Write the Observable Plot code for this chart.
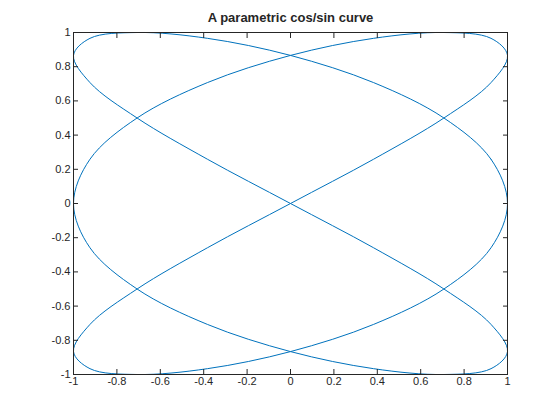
<!DOCTYPE html>
<html>
<head>
<meta charset="UTF-8">
<script src="https://cdn.jsdelivr.net/npm/d3@7"></script>
<script src="https://cdn.jsdelivr.net/npm/@observablehq/plot@0.6"></script>
<style>
  body { margin: 0; background: #fff; }
</style>
</head>
<body>
<div id="chart"></div>
<script>
// points, in drawing order (closed loop)
const xs = [1, 0.924, 0.707, 0.383, 0, -0.383, -0.707, -0.924, -1, -0.924, -0.707, -0.383, 0, 0.383, 0.707, 0.924,
            1, 0.924, 0.707, 0.383, 0, -0.383, -0.707, -0.924, -1, -0.924, -0.707, -0.383, 0, 0.383, 0.707, 0.924,
            1, 0.924, 0.707, 0.383, 0, -0.383, -0.707, -0.924, -1, -0.924, -0.707, -0.383, 0, 0.383, 0.707, 0.924];
const ys = [0, 0.259, 0.5, 0.707, 0.866, 0.966, 1, 0.966, 0.866, 0.707, 0.5, 0.259,
            0, -0.259, -0.5, -0.707, -0.866, -0.966, -1, -0.966, -0.866, -0.707, -0.5, -0.259,
            0, 0.259, 0.5, 0.707, 0.866, 0.966, 1, 0.966, 0.866, 0.707, 0.5, 0.259,
            0, -0.259, -0.5, -0.707, -0.866, -0.966, -1, -0.966, -0.866, -0.707, -0.5, -0.259];
const tickVals = [-1, -0.8, -0.6, -0.4, -0.2, 0, 0.2, 0.4, 0.6, 0.8, 1];

const pts = xs.map((x, i) => ({x, y: ys[i]}));
const fmt = d => String(+d.toFixed(1));
const blank = () => "";

const plot = Plot.plot({
  width: 560, height: 420,
  marginLeft: 73, marginRight: 53, marginTop: 32, marginBottom: 46,
  style: {fontFamily: "Liberation Sans, Arial, sans-serif", fontSize: "11px", color: "#262626"},
  x: {domain: [-1, 1]},
  y: {domain: [-1, 1]},
  marks: [
    Plot.line(pts, {x: "x", y: "y", curve: "catmull-rom-closed", stroke: "#0072BD", strokeWidth: 1}),
    Plot.frame({stroke: "#262626"}),
    Plot.axisX({ticks: tickVals, tickSize: -5, tickFormat: fmt, label: null, tickPadding: 8}),
    Plot.axisX({ticks: tickVals, anchor: "top", tickSize: -5, tickFormat: blank, label: null}),
    Plot.axisY({ticks: tickVals, tickSize: -5, tickFormat: fmt, label: null, tickPadding: 8}),
    Plot.axisY({ticks: tickVals, anchor: "right", tickSize: -5, tickFormat: blank, label: null}),
    Plot.text(["A parametric cos/sin curve"], {frameAnchor: "top", dy: -20, fontWeight: "bold", fontSize: 13})
  ]
});
document.querySelector("#chart").append(plot);
</script>
</body>
</html>
